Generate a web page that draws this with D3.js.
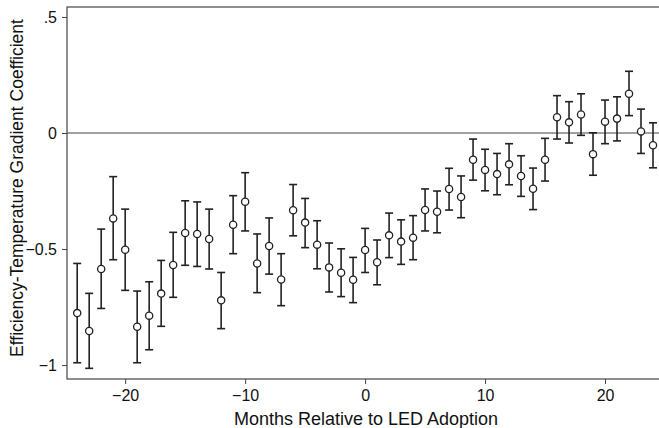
<!DOCTYPE html>
<html>
<head>
<meta charset="utf-8">
<script src="https://cdn.jsdelivr.net/npm/d3@7"></script>
<style>
  body { margin: 0; background: #fff; }
  text { font-family: "Liberation Sans", Arial, sans-serif; fill: #111; }
</style>
</head>
<body>
<div id="chart"></div>
<script>
const months = d3.range(-24, 25);
const coef = [-0.776, -0.853, -0.586, -0.368, -0.503, -0.835, -0.787, -0.692, -0.569, -0.431,
  -0.435, -0.457, -0.721, -0.395, -0.296, -0.562, -0.487, -0.631, -0.333, -0.386,
  -0.481, -0.579, -0.602, -0.632, -0.504, -0.557, -0.441, -0.468, -0.451, -0.332,
  -0.339, -0.241, -0.276, -0.115, -0.159, -0.177, -0.135, -0.185, -0.240, -0.115,
  0.068, 0.046, 0.080, -0.091, 0.049, 0.062, 0.169, 0.007, -0.053];
const ciHigh = [-0.562, -0.691, -0.414, -0.188, -0.328, -0.681, -0.641, -0.549, -0.428, -0.292,
  -0.297, -0.328, -0.601, -0.270, -0.171, -0.435, -0.366, -0.520, -0.222, -0.282,
  -0.378, -0.474, -0.499, -0.536, -0.411, -0.461, -0.345, -0.374, -0.356, -0.241,
  -0.250, -0.152, -0.185, -0.026, -0.070, -0.088, -0.046, -0.098, -0.151, -0.023,
  0.161, 0.135, 0.169, 0.001, 0.142, 0.156, 0.266, 0.103, 0.044];
const ciLow = [-0.990, -1.014, -0.756, -0.546, -0.678, -0.990, -0.934, -0.833, -0.708, -0.570,
  -0.575, -0.586, -0.843, -0.520, -0.422, -0.688, -0.608, -0.744, -0.443, -0.494,
  -0.585, -0.685, -0.705, -0.731, -0.601, -0.654, -0.537, -0.566, -0.546, -0.422,
  -0.430, -0.332, -0.365, -0.203, -0.249, -0.266, -0.223, -0.273, -0.330, -0.207,
  -0.026, -0.043, -0.010, -0.182, -0.046, -0.034, 0.075, -0.088, -0.150];
const xTicks = [-20, -10, 0, 10, 20];
const yTicks = [0.5, 0, -0.5, -1];

const data = months.map((m, i) => ({ m: m, b: coef[i], lo: ciLow[i], hi: ciHigh[i] }));

const width = 659, height = 428;
const svg = d3.select("#chart").append("svg")
  .attr("width", width).attr("height", height);

const x = d3.scaleLinear().domain([-24.85, 24.5]).range([67, 659]);
const y = d3.scaleLinear().domain([0.543, -1.06]).range([7, 379]);

// frame
svg.append("rect")
  .attr("x", x.range()[0]).attr("y", y.range()[0])
  .attr("width", 600).attr("height", y.range()[1] - y.range()[0])
  .attr("fill", "none").attr("stroke", "#444").attr("stroke-width", 1.2);

// zero line
svg.append("line")
  .attr("x1", x.range()[0]).attr("x2", width)
  .attr("y1", y(0)).attr("y2", y(0))
  .attr("stroke", "#444").attr("stroke-width", 1.2);

// axes
const fmt = d => d === 0 ? "0" : d3.format(".1~f")(d).replace(/^(-?)0\./, "$1.");
svg.append("g")
  .attr("transform", `translate(${x.range()[0]},0)`)
  .call(d3.axisLeft(y).tickValues(yTicks).tickSize(5).tickPadding(5).tickFormat(fmt))
  .call(g => g.select(".domain").remove())
  .call(g => g.selectAll(".tick line").attr("stroke", "#444"))
  .call(g => g.selectAll(".tick text").attr("font-size", 16).style("font-family", "Liberation Sans, Arial, sans-serif"));

svg.append("g")
  .attr("transform", `translate(0,${y.range()[1]})`)
  .call(d3.axisBottom(x).tickValues(xTicks).tickSize(5).tickPadding(5.5).tickFormat(d3.format("d")))
  .call(g => g.select(".domain").remove())
  .call(g => g.selectAll(".tick line").attr("stroke", "#444"))
  .call(g => g.selectAll(".tick text").attr("font-size", 16).style("font-family", "Liberation Sans, Arial, sans-serif"));

// axis titles
svg.append("text")
  .attr("x", 366).attr("y", 425)
  .attr("text-anchor", "middle").attr("font-size", 18)
  .text("Months Relative to LED Adoption");

svg.append("text")
  .attr("transform", `translate(23,188) rotate(-90)`)
  .attr("text-anchor", "middle").attr("font-size", 17.5)
  .text("Efficiency-Temperature Gradient Coefficient");

// error bars
const bars = svg.append("g").attr("stroke", "#222").attr("stroke-width", 1.6);
bars.selectAll(".ci").data(data).join("line")
  .attr("x1", d => x(d.m)).attr("x2", d => x(d.m))
  .attr("y1", d => y(d.hi)).attr("y2", d => y(d.lo));
bars.selectAll(".capTop").data(data).join("line")
  .attr("x1", d => x(d.m) - 4).attr("x2", d => x(d.m) + 4)
  .attr("y1", d => y(d.hi)).attr("y2", d => y(d.hi));
bars.selectAll(".capBot").data(data).join("line")
  .attr("x1", d => x(d.m) - 4).attr("x2", d => x(d.m) + 4)
  .attr("y1", d => y(d.lo)).attr("y2", d => y(d.lo));

// points
svg.append("g").selectAll("circle").data(data).join("circle")
  .attr("cx", d => x(d.m)).attr("cy", d => y(d.b))
  .attr("r", 3.6)
  .attr("fill", "#fff").attr("stroke", "#222").attr("stroke-width", 1.3);
</script>
</body>
</html>
